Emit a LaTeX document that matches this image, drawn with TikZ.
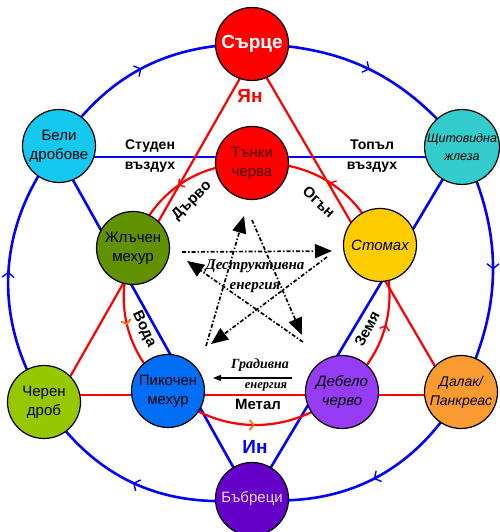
\documentclass[tikz,border=0pt]{standalone}
\usepackage{fontspec}
\setmainfont{Liberation Serif}
\setsansfont{Liberation Sans}
\usetikzlibrary{arrows.meta,decorations.markings,backgrounds}
\definecolor{cRed}{RGB}{255,0,0}
\definecolor{cBlue}{RGB}{0,0,255}
\definecolor{cOrange}{RGB}{255,110,20}
\definecolor{cBeli}{RGB}{20,200,240}
\definecolor{cShtit}{RGB}{51,204,204}
\definecolor{cZhlach}{RGB}{98,145,0}
\definecolor{cStomah}{RGB}{255,204,0}
\definecolor{cCheren}{RGB}{150,200,0}
\definecolor{cPikochen}{RGB}{0,110,245}
\definecolor{cDebelo}{RGB}{150,60,245}
\definecolor{cDalak}{RGB}{250,155,50}
\definecolor{cBubreci}{RGB}{100,0,200}
\definecolor{tTanki}{RGB}{70,0,0}
\definecolor{tBubreci}{RGB}{235,215,255}
\begin{document}
\begin{tikzpicture}[x=1pt,y=1pt,
  organ/.style={circle,draw=black,line width=1.2pt,minimum size=73pt,inner sep=0pt,align=center,
    font=\sffamily\fontsize{15}{19}\selectfont},
  ring/.style={draw=cBlue,line width=2.6pt,postaction={decorate},
    decoration={markings,mark=at position 0.5 with {\arrow{Straight Barb[length=5pt,width=12pt,line width=1.4pt]}}}},
  yin/.style={draw=cBlue,line width=2.6pt},
  yang/.style={draw=cRed,line width=2.2pt},
  genarc/.style={draw=cRed,line width=2.2pt,postaction={decorate},
    decoration={markings,mark=at position 0.5 with {\arrow{Straight Barb[length=4pt,width=10pt,line width=1.4pt]}}}},
  genarco/.style={draw=cRed,line width=2.2pt,postaction={decorate},
    decoration={markings,mark=at position 0.5 with {\arrow{Straight Barb[length=4pt,width=10pt,line width=1.8pt,color=cOrange]}}}},
  starline/.style={draw=black,line width=1.7pt,dash pattern=on 4pt off 2pt on 1.5pt off 2pt,
    -{Triangle[length=17pt,width=14pt]}},
  boldlbl/.style={font=\sffamily\bfseries\fontsize{14}{20}\selectfont,align=center,inner sep=0pt},
  elemlbl/.style={font=\sffamily\bfseries\fontsize{15}{17}\selectfont,inner sep=0pt}
]
\useasboundingbox (0,0) rectangle (499,532);

% organs
\node[organ,fill=cRed,text=white,font=\sffamily\bfseries\fontsize{19}{21}\selectfont] (serdce) at (252,488) {Сърце};
\node[organ,fill=cRed,text=tTanki] (tanki) at (252,369) {Тънки\\черва};
\node[organ,fill=cBeli,text=black] (beli) at (59,386) {Бели\\дробове};
\node[organ,fill=cShtit,text=black,font=\sffamily\itshape\fontsize{12.5}{18}\selectfont] (shtit) at (462,385) {Щитовидна\\жлеза};
\node[organ,fill=cZhlach,text=black] (zhlach) at (133,284) {Жлъчен\\мехур};
\node[organ,fill=cStomah,text=black,font=\sffamily\itshape\fontsize{15}{19}\selectfont] (stomah) at (380,287) {Стомах};
\node[organ,fill=cCheren,text=black] (cheren) at (44,130) {Черен\\дроб};
\node[organ,fill=cPikochen,text=black] (pikochen) at (168,141) {Пикочен\\мехур};
\node[organ,fill=cDebelo,text=black,font=\sffamily\itshape\fontsize{15}{19}\selectfont] (debelo) at (342,140) {Дебело\\черво};
\node[organ,fill=cDalak,text=black,font=\sffamily\itshape\fontsize{14}{19}\selectfont] (dalak) at (461,140) {Далак/\\Панкреас};
\node[organ,fill=cBubreci,text=tBubreci] (bubreci) at (252,33) {Бъбреци};

\begin{scope}[on background layer]
  % outer ring
  \draw[ring] (serdce.center) to[bend left=25] (shtit.center);
  \draw[ring] (shtit.center) to[bend left=26] (dalak.center);
  \draw[ring] (dalak.center) to[bend left=33] (bubreci.center);
  \draw[ring] (bubreci.center) to[bend left=32] (cheren.center);
  \draw[ring] (cheren.center) to[bend left=35] (beli.center);
  \draw[ring] (beli.center) to[bend left=28] (serdce.center);
  % yin triangle
  \draw[yin] ([xshift=-5pt]beli.center) -- ([xshift=-1pt]bubreci.center);
  \draw[yin] (shtit.center) -- (bubreci.center);
  \draw[yin,line width=2pt] ([yshift=-11pt]beli.center) -- ([yshift=-10pt]shtit.center);
  % yang triangle
  \draw[yang] ([xshift=7.5pt]serdce.center) -- ([xshift=11.7pt]cheren.center);
  \draw[yang] ([xshift=-5pt]serdce.center) -- ([xshift=-11pt]dalak.center);
  \draw[yang,line width=1.5pt] ([yshift=7pt]cheren.center) -- ([yshift=-3pt]dalak.center);
  % generating cycle
  \draw[genarc] (tanki.center) to[bend right=35] (zhlach.center);
  \draw[genarco] (zhlach.center) to[bend right=34] (pikochen.center);
  \draw[genarco] (pikochen.center) to[bend right=41] (debelo.center);
  \draw[genarc] (debelo.center) to[bend right=35] (stomah.center);
  \draw[genarc] (stomah.center) to[bend right=35] (tanki.center);
\end{scope}

% labels
\node[font=\sffamily\bfseries\fontsize{19}{21}\selectfont,text=cRed,inner sep=0pt] (yan) at (250,436) {Ян};
\node[font=\sffamily\bfseries\fontsize{19}{21}\selectfont,text=cBlue,inner sep=0pt] (in) at (255,85) {Ин};
\node[boldlbl] (studen) at (150,376) {Студен\\въздух};
\node[boldlbl] (topal) at (372,376) {Топъл\\въздух};
\node[elemlbl,rotate=45] (darvo) at (192,331) {Дърво};
\node[elemlbl,rotate=-43] (ogan) at (319,330) {Огън};
\node[elemlbl,rotate=-65] (voda) at (144,203) {Вода};
\node[elemlbl,rotate=62] (zemya) at (367,203) {Земя};
\node[elemlbl] (metal) at (258,128) {Метал};

% destructive cycle star
\coordinate (sL1) at (182,280);
\coordinate (sR1) at (332,281);
\coordinate (sR2) at (327,275);
\coordinate (sBL2) at (211,188);
\coordinate (sBL3) at (206,186);
\coordinate (sT3) at (244,316);
\coordinate (sT4) at (252,312);
\coordinate (sBR4) at (302,197);
\coordinate (sBR5) at (303,190);
\coordinate (sL5) at (187,271);
\draw[starline] (sL1) -- (sR1);
\draw[starline] (sR2) -- (sBL2);
\draw[starline] (sBL3) -- (sT3);
\draw[starline] (sT4) -- (sBR4);
\draw[starline] (sBR5) -- (sL5);
\node[font=\rmfamily\bfseries\itshape\fontsize{15}{20}\selectfont,align=center,inner sep=0pt] (destr) at (255,256) {Деструктивна\\енергия};

% constructive energy label
\node[font=\rmfamily\bfseries\itshape\fontsize{14}{14}\selectfont,inner sep=0pt] (grad1) at (260,167) {Градивна};
\node[font=\rmfamily\bfseries\itshape\fontsize{12.5}{13}\selectfont,inner sep=0pt] (grad2) at (266,145) {енергия};
\coordinate (grA) at (292,154);
\coordinate (grB) at (213,154);
\draw[line width=1.3pt,-{Triangle[length=8pt,width=6pt]}] (grA) -- (grB);
\end{tikzpicture}
\end{document}
